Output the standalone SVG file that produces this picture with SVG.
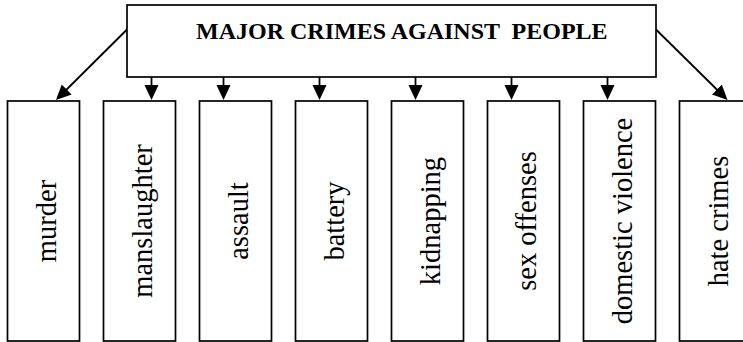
<svg xmlns="http://www.w3.org/2000/svg" width="743" height="342" viewBox="0 0 743 342">
  <style>
    .box { fill: #ffffff; stroke: #000000; stroke-width: 1.7; }
    .title { font-family: "Liberation Serif", "Times New Roman", serif; font-weight: bold; font-size: 24px; fill: #000000; }
    .label { font-family: "Liberation Serif", "Times New Roman", serif; font-size: 28.5px; fill: #000000; text-anchor: middle; }
    .conn { stroke: #000000; stroke-width: 1.8; fill: none; marker-end: url(#arrow); }
  </style>
  <defs>
    <marker id="arrow" markerUnits="userSpaceOnUse" markerWidth="16" markerHeight="15" refX="5" refY="7" orient="auto">
      <path d="M0,0 L15,7 L0,14 Z" fill="#000000"/>
    </marker>
  </defs>

  <rect x="0" y="0" width="743" height="342" fill="#ffffff"/>

  <!-- connectors -->
  <g id="connectors">
    <line class="conn" x1="127" y1="29.5" x2="63.1" y2="93"/>
    <line class="conn" x1="151.5" y1="77" x2="151.5" y2="90"/>
    <line class="conn" x1="223.5" y1="77" x2="223.5" y2="90"/>
    <line class="conn" x1="319.5" y1="77" x2="319.5" y2="90"/>
    <line class="conn" x1="415.5" y1="77" x2="415.5" y2="90"/>
    <line class="conn" x1="511.5" y1="77" x2="511.5" y2="90"/>
    <line class="conn" x1="607.5" y1="77" x2="607.5" y2="90"/>
    <line class="conn" x1="656" y1="29.5" x2="720.4" y2="93"/>
  </g>

  <!-- root -->
  <g id="root">
    <rect class="box" x="127" y="5" width="529" height="72"/>
    <text class="title" x="196" y="39" xml:space="preserve">MAJOR CRIMES AGAINST  PEOPLE</text>
  </g>

  <!-- categories -->
  <g id="murder">
    <rect class="box" x="7.5" y="101" width="72" height="240"/>
    <text class="label" transform="translate(55.5,221) rotate(-90)">murder</text>
  </g>
  <g id="manslaughter">
    <rect class="box" x="103.5" y="101" width="72" height="240"/>
    <text class="label" transform="translate(151.5,221) rotate(-90)">manslaughter</text>
  </g>
  <g id="assault">
    <rect class="box" x="199.5" y="101" width="72" height="240"/>
    <text class="label" transform="translate(247.5,221) rotate(-90)">assault</text>
  </g>
  <g id="battery">
    <rect class="box" x="295.5" y="101" width="72" height="240"/>
    <text class="label" transform="translate(343.5,221) rotate(-90)">battery</text>
  </g>
  <g id="kidnapping">
    <rect class="box" x="391.5" y="101" width="72" height="240"/>
    <text class="label" transform="translate(439.5,221) rotate(-90)">kidnapping</text>
  </g>
  <g id="sex-offenses">
    <rect class="box" x="487.5" y="101" width="72" height="240"/>
    <text class="label" transform="translate(535.5,221) rotate(-90)">sex offenses</text>
  </g>
  <g id="domestic-violence">
    <rect class="box" x="583.5" y="101" width="72" height="240"/>
    <text class="label" transform="translate(631.5,221) rotate(-90)">domestic violence</text>
  </g>
  <g id="hate-crimes">
    <rect class="box" x="679.5" y="101" width="72" height="240"/>
    <text class="label" transform="translate(727.5,221) rotate(-90)">hate crimes</text>
  </g>
</svg>
